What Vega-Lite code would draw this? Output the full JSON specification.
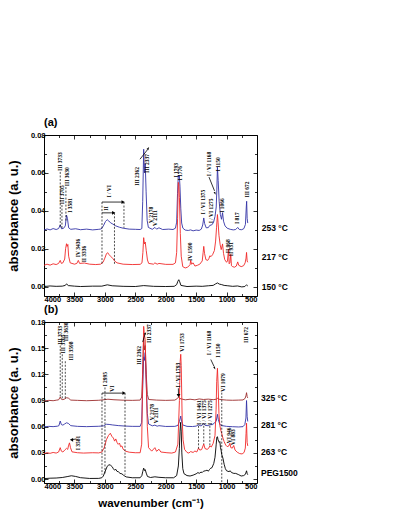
{
  "$schema": "https://vega.github.io/schema/vega-lite/v6.json",
  "padding": {"left": 7, "top": 117, "right": 5, "bottom": 5},
  "spacing": 1,
  "config": {
    "view": {"stroke": null},
    "axis": {"labelFont": "Liberation Sans", "labelFontWeight": "bold", "labelFontSize": 7.5, "labelColor": "black", "titleFont": "Liberation Sans", "titleFontWeight": "bold", "titleColor": "black", "domainColor": "black", "domainWidth": 1, "tickColor": "black", "tickWidth": 0.8, "grid": false}
  },
  "datasets": {
    "specA": [
      {"wn":4000,"a":0.0298,"s":"253"},{"wn":3950,"a":0.0304,"s":"253"},{"wn":3900,"a":0.0299,"s":"253"},{"wn":3850,"a":0.0306,"s":"253"},{"wn":3800,"a":0.0301,"s":"253"},{"wn":3760,"a":0.0306,"s":"253"},{"wn":3733,"a":0.0325,"s":"253"},{"wn":3712,"a":0.0305,"s":"253"},{"wn":3680,"a":0.0307,"s":"253"},{"wn":3650,"a":0.032,"s":"253"},{"wn":3630,"a":0.0377,"s":"253"},{"wn":3615,"a":0.036,"s":"253"},{"wn":3595,"a":0.031,"s":"253"},{"wn":3560,"a":0.0302,"s":"253"},{"wn":3480,"a":0.0305,"s":"253"},{"wn":3400,"a":0.03,"s":"253"},{"wn":3300,"a":0.0303,"s":"253"},{"wn":3200,"a":0.0299,"s":"253"},{"wn":3100,"a":0.0302,"s":"253"},{"wn":3060,"a":0.0304,"s":"253"},{"wn":3025,"a":0.032,"s":"253"},{"wn":2990,"a":0.0343,"s":"253"},{"wn":2962,"a":0.0353,"s":"253"},{"wn":2935,"a":0.0346,"s":"253"},{"wn":2905,"a":0.0336,"s":"253"},{"wn":2870,"a":0.033,"s":"253"},{"wn":2820,"a":0.032,"s":"253"},{"wn":2760,"a":0.0313,"s":"253"},{"wn":2700,"a":0.0308,"s":"253"},{"wn":2600,"a":0.0303,"s":"253"},{"wn":2500,"a":0.0302,"s":"253"},{"wn":2420,"a":0.0301,"s":"253"},{"wn":2392,"a":0.0306,"s":"253"},{"wn":2378,"a":0.045,"s":"253"},{"wn":2362,"a":0.0725,"s":"253"},{"wn":2350,"a":0.06,"s":"253"},{"wn":2337,"a":0.065,"s":"253"},{"wn":2322,"a":0.05,"s":"253"},{"wn":2305,"a":0.035,"s":"253"},{"wn":2285,"a":0.0312,"s":"253"},{"wn":2220,"a":0.0302,"s":"253"},{"wn":2178,"a":0.0312,"s":"253"},{"wn":2150,"a":0.0303,"s":"253"},{"wn":2111,"a":0.031,"s":"253"},{"wn":2050,"a":0.0301,"s":"253"},{"wn":1950,"a":0.0303,"s":"253"},{"wn":1880,"a":0.0301,"s":"253"},{"wn":1840,"a":0.0308,"s":"253"},{"wn":1820,"a":0.034,"s":"253"},{"wn":1806,"a":0.049,"s":"253"},{"wn":1793,"a":0.0588,"s":"253"},{"wn":1784,"a":0.0578,"s":"253"},{"wn":1776,"a":0.0585,"s":"253"},{"wn":1766,"a":0.053,"s":"253"},{"wn":1752,"a":0.041,"s":"253"},{"wn":1738,"a":0.0335,"s":"253"},{"wn":1718,"a":0.0308,"s":"253"},{"wn":1680,"a":0.0298,"s":"253"},{"wn":1630,"a":0.0296,"s":"253"},{"wn":1590,"a":0.0299,"s":"253"},{"wn":1550,"a":0.0294,"s":"253"},{"wn":1500,"a":0.0298,"s":"253"},{"wn":1450,"a":0.0296,"s":"253"},{"wn":1415,"a":0.0303,"s":"253"},{"wn":1392,"a":0.0325,"s":"253"},{"wn":1375,"a":0.0362,"s":"253"},{"wn":1360,"a":0.0332,"s":"253"},{"wn":1335,"a":0.031,"s":"253"},{"wn":1300,"a":0.0311,"s":"253"},{"wn":1275,"a":0.0323,"s":"253"},{"wn":1245,"a":0.0325,"s":"253"},{"wn":1215,"a":0.0338,"s":"253"},{"wn":1190,"a":0.037,"s":"253"},{"wn":1170,"a":0.042,"s":"253"},{"wn":1160,"a":0.051,"s":"253"},{"wn":1150,"a":0.063,"s":"253"},{"wn":1138,"a":0.056,"s":"253"},{"wn":1122,"a":0.045,"s":"253"},{"wn":1102,"a":0.038,"s":"253"},{"wn":1083,"a":0.0355,"s":"253"},{"wn":1066,"a":0.039,"s":"253"},{"wn":1050,"a":0.0345,"s":"253"},{"wn":1025,"a":0.032,"s":"253"},{"wn":990,"a":0.0308,"s":"253"},{"wn":940,"a":0.0302,"s":"253"},{"wn":890,"a":0.0299,"s":"253"},{"wn":850,"a":0.0301,"s":"253"},{"wn":817,"a":0.0312,"s":"253"},{"wn":790,"a":0.0301,"s":"253"},{"wn":750,"a":0.03,"s":"253"},{"wn":715,"a":0.0306,"s":"253"},{"wn":690,"a":0.0328,"s":"253"},{"wn":676,"a":0.042,"s":"253"},{"wn":670,"a":0.045,"s":"253"},{"wn":662,"a":0.036,"s":"253"},{"wn":652,"a":0.0335,"s":"253"},

      {"wn":4000,"a":0.0112,"s":"217"},{"wn":3950,"a":0.0118,"s":"217"},{"wn":3900,"a":0.0113,"s":"217"},{"wn":3850,"a":0.012,"s":"217"},{"wn":3800,"a":0.0116,"s":"217"},{"wn":3760,"a":0.0122,"s":"217"},{"wn":3733,"a":0.0138,"s":"217"},{"wn":3715,"a":0.0122,"s":"217"},{"wn":3690,"a":0.0125,"s":"217"},{"wn":3660,"a":0.0145,"s":"217"},{"wn":3645,"a":0.02,"s":"217"},{"wn":3630,"a":0.0226,"s":"217"},{"wn":3620,"a":0.0212,"s":"217"},{"wn":3608,"a":0.0222,"s":"217"},{"wn":3595,"a":0.016,"s":"217"},{"wn":3570,"a":0.0125,"s":"217"},{"wn":3500,"a":0.0118,"s":"217"},{"wn":3460,"a":0.0122,"s":"217"},{"wn":3436,"a":0.0138,"s":"217"},{"wn":3415,"a":0.0122,"s":"217"},{"wn":3336,"a":0.0124,"s":"217"},{"wn":3250,"a":0.0118,"s":"217"},{"wn":3150,"a":0.0116,"s":"217"},{"wn":3070,"a":0.0118,"s":"217"},{"wn":3030,"a":0.0128,"s":"217"},{"wn":3000,"a":0.015,"s":"217"},{"wn":2975,"a":0.0172,"s":"217"},{"wn":2955,"a":0.0179,"s":"217"},{"wn":2930,"a":0.0168,"s":"217"},{"wn":2900,"a":0.0158,"s":"217"},{"wn":2870,"a":0.0148,"s":"217"},{"wn":2840,"a":0.0135,"s":"217"},{"wn":2800,"a":0.0125,"s":"217"},{"wn":2700,"a":0.0118,"s":"217"},{"wn":2550,"a":0.0116,"s":"217"},{"wn":2420,"a":0.0117,"s":"217"},{"wn":2390,"a":0.0125,"s":"217"},{"wn":2375,"a":0.018,"s":"217"},{"wn":2362,"a":0.0258,"s":"217"},{"wn":2350,"a":0.0225,"s":"217"},{"wn":2337,"a":0.0235,"s":"217"},{"wn":2320,"a":0.019,"s":"217"},{"wn":2300,"a":0.014,"s":"217"},{"wn":2280,"a":0.0122,"s":"217"},{"wn":2200,"a":0.0118,"s":"217"},{"wn":2178,"a":0.0125,"s":"217"},{"wn":2140,"a":0.0118,"s":"217"},{"wn":2111,"a":0.0122,"s":"217"},{"wn":2000,"a":0.0117,"s":"217"},{"wn":1880,"a":0.0117,"s":"217"},{"wn":1840,"a":0.0125,"s":"217"},{"wn":1820,"a":0.018,"s":"217"},{"wn":1805,"a":0.036,"s":"217"},{"wn":1793,"a":0.055,"s":"217"},{"wn":1785,"a":0.054,"s":"217"},{"wn":1775,"a":0.047,"s":"217"},{"wn":1760,"a":0.028,"s":"217"},{"wn":1745,"a":0.016,"s":"217"},{"wn":1720,"a":0.0105,"s":"217"},{"wn":1680,"a":0.0098,"s":"217"},{"wn":1640,"a":0.0102,"s":"217"},{"wn":1600,"a":0.0115,"s":"217"},{"wn":1590,"a":0.0138,"s":"217"},{"wn":1575,"a":0.0118,"s":"217"},{"wn":1550,"a":0.0125,"s":"217"},{"wn":1520,"a":0.0108,"s":"217"},{"wn":1480,"a":0.0112,"s":"217"},{"wn":1440,"a":0.0118,"s":"217"},{"wn":1400,"a":0.0135,"s":"217"},{"wn":1385,"a":0.018,"s":"217"},{"wn":1375,"a":0.0212,"s":"217"},{"wn":1362,"a":0.0175,"s":"217"},{"wn":1340,"a":0.0142,"s":"217"},{"wn":1310,"a":0.0138,"s":"217"},{"wn":1290,"a":0.0148,"s":"217"},{"wn":1275,"a":0.0162,"s":"217"},{"wn":1255,"a":0.0158,"s":"217"},{"wn":1230,"a":0.0168,"s":"217"},{"wn":1200,"a":0.019,"s":"217"},{"wn":1180,"a":0.024,"s":"217"},{"wn":1165,"a":0.031,"s":"217"},{"wn":1150,"a":0.038,"s":"217"},{"wn":1140,"a":0.034,"s":"217"},{"wn":1125,"a":0.027,"s":"217"},{"wn":1105,"a":0.022,"s":"217"},{"wn":1088,"a":0.0195,"s":"217"},{"wn":1066,"a":0.0225,"s":"217"},{"wn":1050,"a":0.0175,"s":"217"},{"wn":1030,"a":0.0142,"s":"217"},{"wn":1000,"a":0.0128,"s":"217"},{"wn":985,"a":0.0135,"s":"217"},{"wn":968,"a":0.0197,"s":"217"},{"wn":958,"a":0.012,"s":"217"},{"wn":945,"a":0.0125,"s":"217"},{"wn":931,"a":0.017,"s":"217"},{"wn":920,"a":0.011,"s":"217"},{"wn":900,"a":0.0105,"s":"217"},{"wn":870,"a":0.0102,"s":"217"},{"wn":840,"a":0.0108,"s":"217"},{"wn":817,"a":0.013,"s":"217"},{"wn":800,"a":0.0112,"s":"217"},{"wn":760,"a":0.0105,"s":"217"},{"wn":720,"a":0.011,"s":"217"},{"wn":695,"a":0.0125,"s":"217"},{"wn":680,"a":0.015,"s":"217"},{"wn":672,"a":0.018,"s":"217"},{"wn":662,"a":0.0135,"s":"217"},{"wn":652,"a":0.0128,"s":"217"},

      {"wn":4000,"a":0.0,"s":"150"},{"wn":3900,"a":0.0003,"s":"150"},{"wn":3800,"a":0.0001,"s":"150"},{"wn":3700,"a":0.0002,"s":"150"},{"wn":3650,"a":0.0006,"s":"150"},{"wn":3630,"a":0.0014,"s":"150"},{"wn":3600,"a":0.0005,"s":"150"},{"wn":3500,"a":0.0002,"s":"150"},{"wn":3400,"a":0.0,"s":"150"},{"wn":3200,"a":0.0002,"s":"150"},{"wn":3050,"a":0.0002,"s":"150"},{"wn":2960,"a":0.0009,"s":"150"},{"wn":2880,"a":0.0004,"s":"150"},{"wn":2700,"a":0.0001,"s":"150"},{"wn":2500,"a":0.0,"s":"150"},{"wn":2362,"a":0.0005,"s":"150"},{"wn":2200,"a":0.0001,"s":"150"},{"wn":2000,"a":0.0,"s":"150"},{"wn":1860,"a":0.0001,"s":"150"},{"wn":1820,"a":0.001,"s":"150"},{"wn":1800,"a":0.0028,"s":"150"},{"wn":1785,"a":0.0036,"s":"150"},{"wn":1770,"a":0.0025,"s":"150"},{"wn":1750,"a":0.0006,"s":"150"},{"wn":1650,"a":0.0,"s":"150"},{"wn":1500,"a":0.0002,"s":"150"},{"wn":1400,"a":0.0001,"s":"150"},{"wn":1300,"a":0.0004,"s":"150"},{"wn":1220,"a":0.0006,"s":"150"},{"wn":1180,"a":0.0014,"s":"150"},{"wn":1150,"a":0.0019,"s":"150"},{"wn":1120,"a":0.0013,"s":"150"},{"wn":1080,"a":0.001,"s":"150"},{"wn":1040,"a":0.0006,"s":"150"},{"wn":980,"a":0.0004,"s":"150"},{"wn":900,"a":0.0001,"s":"150"},{"wn":820,"a":0.0003,"s":"150"},{"wn":750,"a":-0.0002,"s":"150"},{"wn":700,"a":0.0,"s":"150"},{"wn":672,"a":0.0009,"s":"150"},{"wn":652,"a":0.0003,"s":"150"}
    ],
    "labA": [
      {"wn":3733,"a":0.061,"t":"III 3733"},{"wn":3705,"a":0.0435,"t":"III 3705"},{"wn":3630,"a":0.053,"t":"III 3630"},{"wn":3570,"a":0.039,"t":"I 3581"},{"wn":3446,"a":0.0155,"t":"IV 3436"},{"wn":3345,"a":0.0128,"t":"II 3336"},{"wn":2935,"a":0.047,"t":"I / VI"},{"wn":2975,"a":0.04,"t":"II"},{"wn":2470,"a":0.0532,"t":"III 2362"},{"wn":2300,"a":0.06,"t":"III 2337"},{"wn":2240,"a":0.0336,"t":"V 2178"},{"wn":2170,"a":0.032,"t":"V 2111"},{"wn":1831,"a":0.0575,"t":"I 1793"},{"wn":1766,"a":0.056,"t":"I 1776"},{"wn":1601,"a":0.0135,"t":"IV 1590"},{"wn":1393,"a":0.038,"t":"I / VI 1375"},{"wn":1256,"a":0.0334,"t":"I / VI 1275"},{"wn":1289,"a":0.0582,"t":"I / VI 1168"},{"wn":1146,"a":0.0607,"t":"I 1150"},{"wn":1070,"a":0.039,"t":"I 1066"},{"wn":971,"a":0.0176,"t":"II 968"},{"wn":927,"a":0.016,"t":"II 931"},{"wn":824,"a":0.033,"t":"I 817"},{"wn":669,"a":0.047,"t":"III 672"}
    ],
    "dashA": [
      {"wn":3733,"a":0.0605,"a2":0.031},{"wn":3705,"a":0.043,"a2":0.0305},{"wn":3640,"a":0.0525,"a2":0.034},{"wn":3047,"a":0.0446,"a2":0.012},{"wn":2686,"a":0.0446,"a2":0.031},{"wn":2842,"a":0.0389,"a2":0.012}
    ],
    "arrA": [
      {"wn":3047,"a":0.0446,"wn2":2700,"a2":0.0446},{"wn":3047,"a":0.0389,"wn2":2855,"a2":0.0389},{"wn":2423,"a":0.0672,"wn2":2300,"a2":0.0722},{"wn":1289,"a":0.0578,"wn2":1198,"a2":0.0505}
    ],
    "headA": [
      {"wn":2700,"a":0.0446,"dir":"right"},{"wn":2855,"a":0.0389,"dir":"right"},{"wn":2290,"a":0.0728,"dir":"upright"},{"wn":1192,"a":0.0493,"dir":"downright"}
    ],
    "tempA": [
      {"wn":423,"a":0.031,"t":"253 °C"},{"wn":423,"a":0.0155,"t":"217 °C"},{"wn":423,"a":0.0,"t":"150 °C"}
    ],
    "specB": [
      {"wn":4000,"a":0.0895,"s":"325"},{"wn":3920,"a":0.0902,"s":"325"},{"wn":3850,"a":0.0898,"s":"325"},{"wn":3790,"a":0.0905,"s":"325"},{"wn":3760,"a":0.0908,"s":"325"},{"wn":3733,"a":0.094,"s":"325"},{"wn":3715,"a":0.0915,"s":"325"},{"wn":3690,"a":0.091,"s":"325"},{"wn":3660,"a":0.0918,"s":"325"},{"wn":3630,"a":0.0932,"s":"325"},{"wn":3600,"a":0.0928,"s":"325"},{"wn":3560,"a":0.0905,"s":"325"},{"wn":3450,"a":0.0902,"s":"325"},{"wn":3300,"a":0.0898,"s":"325"},{"wn":3100,"a":0.0903,"s":"325"},{"wn":3000,"a":0.091,"s":"325"},{"wn":2950,"a":0.0915,"s":"325"},{"wn":2850,"a":0.0909,"s":"325"},{"wn":2700,"a":0.0904,"s":"325"},{"wn":2550,"a":0.0902,"s":"325"},{"wn":2420,"a":0.0905,"s":"325"},{"wn":2395,"a":0.094,"s":"325"},{"wn":2380,"a":0.12,"s":"325"},{"wn":2362,"a":0.162,"s":"325"},{"wn":2350,"a":0.148,"s":"325"},{"wn":2337,"a":0.153,"s":"325"},{"wn":2320,"a":0.12,"s":"325"},{"wn":2302,"a":0.097,"s":"325"},{"wn":2280,"a":0.0912,"s":"325"},{"wn":2150,"a":0.0905,"s":"325"},{"wn":2000,"a":0.0902,"s":"325"},{"wn":1850,"a":0.0905,"s":"325"},{"wn":1810,"a":0.0922,"s":"325"},{"wn":1793,"a":0.0938,"s":"325"},{"wn":1775,"a":0.0925,"s":"325"},{"wn":1740,"a":0.0918,"s":"325"},{"wn":1680,"a":0.0908,"s":"325"},{"wn":1600,"a":0.0915,"s":"325"},{"wn":1520,"a":0.0908,"s":"325"},{"wn":1450,"a":0.0918,"s":"325"},{"wn":1380,"a":0.0912,"s":"325"},{"wn":1300,"a":0.0916,"s":"325"},{"wn":1220,"a":0.091,"s":"325"},{"wn":1170,"a":0.0915,"s":"325"},{"wn":1150,"a":0.0925,"s":"325"},{"wn":1110,"a":0.0912,"s":"325"},{"wn":1000,"a":0.0905,"s":"325"},{"wn":900,"a":0.0903,"s":"325"},{"wn":800,"a":0.0905,"s":"325"},{"wn":730,"a":0.0907,"s":"325"},{"wn":695,"a":0.0925,"s":"325"},{"wn":680,"a":0.096,"s":"325"},{"wn":672,"a":0.099,"s":"325"},{"wn":662,"a":0.0945,"s":"325"},{"wn":652,"a":0.093,"s":"325"},

      {"wn":4000,"a":0.0598,"s":"281"},{"wn":3920,"a":0.0604,"s":"281"},{"wn":3850,"a":0.0601,"s":"281"},{"wn":3780,"a":0.0606,"s":"281"},{"wn":3755,"a":0.0612,"s":"281"},{"wn":3733,"a":0.0665,"s":"281"},{"wn":3715,"a":0.0625,"s":"281"},{"wn":3690,"a":0.0618,"s":"281"},{"wn":3660,"a":0.0632,"s":"281"},{"wn":3630,"a":0.0645,"s":"281"},{"wn":3600,"a":0.0638,"s":"281"},{"wn":3560,"a":0.0612,"s":"281"},{"wn":3450,"a":0.0604,"s":"281"},{"wn":3300,"a":0.0601,"s":"281"},{"wn":3100,"a":0.0605,"s":"281"},{"wn":3020,"a":0.061,"s":"281"},{"wn":2975,"a":0.0628,"s":"281"},{"wn":2930,"a":0.0626,"s":"281"},{"wn":2870,"a":0.062,"s":"281"},{"wn":2780,"a":0.0613,"s":"281"},{"wn":2680,"a":0.0608,"s":"281"},{"wn":2550,"a":0.0604,"s":"281"},{"wn":2420,"a":0.0604,"s":"281"},{"wn":2395,"a":0.065,"s":"281"},{"wn":2380,"a":0.1,"s":"281"},{"wn":2362,"a":0.14,"s":"281"},{"wn":2350,"a":0.136,"s":"281"},{"wn":2337,"a":0.145,"s":"281"},{"wn":2320,"a":0.11,"s":"281"},{"wn":2302,"a":0.075,"s":"281"},{"wn":2282,"a":0.0632,"s":"281"},{"wn":2220,"a":0.061,"s":"281"},{"wn":2178,"a":0.0618,"s":"281"},{"wn":2140,"a":0.0606,"s":"281"},{"wn":2111,"a":0.0612,"s":"281"},{"wn":2000,"a":0.0603,"s":"281"},{"wn":1850,"a":0.0604,"s":"281"},{"wn":1800,"a":0.0615,"s":"281"},{"wn":1775,"a":0.066,"s":"281"},{"wn":1753,"a":0.0722,"s":"281"},{"wn":1740,"a":0.0665,"s":"281"},{"wn":1720,"a":0.062,"s":"281"},{"wn":1650,"a":0.0604,"s":"281"},{"wn":1560,"a":0.0602,"s":"281"},{"wn":1500,"a":0.0607,"s":"281"},{"wn":1461,"a":0.0622,"s":"281"},{"wn":1420,"a":0.0608,"s":"281"},{"wn":1375,"a":0.0635,"s":"281"},{"wn":1350,"a":0.0614,"s":"281"},{"wn":1300,"a":0.0612,"s":"281"},{"wn":1275,"a":0.0622,"s":"281"},{"wn":1230,"a":0.0625,"s":"281"},{"wn":1195,"a":0.0645,"s":"281"},{"wn":1170,"a":0.0665,"s":"281"},{"wn":1150,"a":0.0742,"s":"281"},{"wn":1135,"a":0.068,"s":"281"},{"wn":1110,"a":0.0625,"s":"281"},{"wn":1079,"a":0.0613,"s":"281"},{"wn":1000,"a":0.0604,"s":"281"},{"wn":900,"a":0.06,"s":"281"},{"wn":800,"a":0.0597,"s":"281"},{"wn":730,"a":0.0601,"s":"281"},{"wn":700,"a":0.0625,"s":"281"},{"wn":682,"a":0.07,"s":"281"},{"wn":672,"a":0.09,"s":"281"},{"wn":662,"a":0.072,"s":"281"},{"wn":652,"a":0.066,"s":"281"},

      {"wn":4000,"a":0.0292,"s":"263"},{"wn":3950,"a":0.0302,"s":"263"},{"wn":3900,"a":0.0295,"s":"263"},{"wn":3850,"a":0.0305,"s":"263"},{"wn":3800,"a":0.0298,"s":"263"},{"wn":3760,"a":0.031,"s":"263"},{"wn":3733,"a":0.036,"s":"263"},{"wn":3715,"a":0.032,"s":"263"},{"wn":3690,"a":0.031,"s":"263"},{"wn":3660,"a":0.0332,"s":"263"},{"wn":3630,"a":0.0352,"s":"263"},{"wn":3610,"a":0.034,"s":"263"},{"wn":3598,"a":0.038,"s":"263"},{"wn":3581,"a":0.0415,"s":"263"},{"wn":3565,"a":0.036,"s":"263"},{"wn":3540,"a":0.0312,"s":"263"},{"wn":3450,"a":0.0302,"s":"263"},{"wn":3350,"a":0.0298,"s":"263"},{"wn":3200,"a":0.0302,"s":"263"},{"wn":3100,"a":0.03,"s":"263"},{"wn":3050,"a":0.031,"s":"263"},{"wn":3010,"a":0.036,"s":"263"},{"wn":2975,"a":0.045,"s":"263"},{"wn":2940,"a":0.05,"s":"263"},{"wn":2910,"a":0.0525,"s":"263"},{"wn":2885,"a":0.049,"s":"263"},{"wn":2860,"a":0.047,"s":"263"},{"wn":2840,"a":0.0435,"s":"263"},{"wn":2820,"a":0.046,"s":"263"},{"wn":2800,"a":0.042,"s":"263"},{"wn":2780,"a":0.0398,"s":"263"},{"wn":2760,"a":0.0412,"s":"263"},{"wn":2740,"a":0.037,"s":"263"},{"wn":2720,"a":0.038,"s":"263"},{"wn":2700,"a":0.0342,"s":"263"},{"wn":2660,"a":0.032,"s":"263"},{"wn":2600,"a":0.0308,"s":"263"},{"wn":2500,"a":0.0302,"s":"263"},{"wn":2420,"a":0.0302,"s":"263"},{"wn":2395,"a":0.04,"s":"263"},{"wn":2380,"a":0.11,"s":"263"},{"wn":2362,"a":0.175,"s":"263"},{"wn":2350,"a":0.165,"s":"263"},{"wn":2337,"a":0.16,"s":"263"},{"wn":2320,"a":0.11,"s":"263"},{"wn":2302,"a":0.06,"s":"263"},{"wn":2282,"a":0.036,"s":"263"},{"wn":2230,"a":0.032,"s":"263"},{"wn":2178,"a":0.036,"s":"263"},{"wn":2150,"a":0.0318,"s":"263"},{"wn":2111,"a":0.0342,"s":"263"},{"wn":2080,"a":0.031,"s":"263"},{"wn":1980,"a":0.0302,"s":"263"},{"wn":1900,"a":0.0298,"s":"263"},{"wn":1840,"a":0.031,"s":"263"},{"wn":1800,"a":0.04,"s":"263"},{"wn":1775,"a":0.09,"s":"263"},{"wn":1762,"a":0.135,"s":"263"},{"wn":1753,"a":0.143,"s":"263"},{"wn":1745,"a":0.13,"s":"263"},{"wn":1730,"a":0.07,"s":"263"},{"wn":1715,"a":0.045,"s":"263"},{"wn":1690,"a":0.034,"s":"263"},{"wn":1650,"a":0.0305,"s":"263"},{"wn":1620,"a":0.0298,"s":"263"},{"wn":1590,"a":0.0315,"s":"263"},{"wn":1550,"a":0.0305,"s":"263"},{"wn":1520,"a":0.0322,"s":"263"},{"wn":1490,"a":0.031,"s":"263"},{"wn":1461,"a":0.0355,"s":"263"},{"wn":1440,"a":0.0332,"s":"263"},{"wn":1410,"a":0.0338,"s":"263"},{"wn":1375,"a":0.0402,"s":"263"},{"wn":1355,"a":0.035,"s":"263"},{"wn":1320,"a":0.034,"s":"263"},{"wn":1295,"a":0.0352,"s":"263"},{"wn":1275,"a":0.038,"s":"263"},{"wn":1250,"a":0.0368,"s":"263"},{"wn":1220,"a":0.041,"s":"263"},{"wn":1190,"a":0.05,"s":"263"},{"wn":1172,"a":0.08,"s":"263"},{"wn":1162,"a":0.112,"s":"263"},{"wn":1150,"a":0.127,"s":"263"},{"wn":1140,"a":0.11,"s":"263"},{"wn":1125,"a":0.075,"s":"263"},{"wn":1110,"a":0.061,"s":"263"},{"wn":1095,"a":0.056,"s":"263"},{"wn":1079,"a":0.052,"s":"263"},{"wn":1060,"a":0.047,"s":"263"},{"wn":1040,"a":0.043,"s":"263"},{"wn":1015,"a":0.039,"s":"263"},{"wn":990,"a":0.0372,"s":"263"},{"wn":965,"a":0.0378,"s":"263"},{"wn":946,"a":0.041,"s":"263"},{"wn":930,"a":0.036,"s":"263"},{"wn":905,"a":0.0355,"s":"263"},{"wn":883,"a":0.0385,"s":"263"},{"wn":860,"a":0.0332,"s":"263"},{"wn":825,"a":0.0308,"s":"263"},{"wn":785,"a":0.0292,"s":"263"},{"wn":745,"a":0.0288,"s":"263"},{"wn":712,"a":0.0305,"s":"263"},{"wn":692,"a":0.0355,"s":"263"},{"wn":680,"a":0.052,"s":"263"},{"wn":672,"a":0.064,"s":"263"},{"wn":662,"a":0.042,"s":"263"},{"wn":652,"a":0.038,"s":"263"},

      {"wn":4000,"a":0.0005,"s":"PEG"},{"wn":3900,"a":0.001,"s":"PEG"},{"wn":3800,"a":0.0012,"s":"PEG"},{"wn":3700,"a":0.0018,"s":"PEG"},{"wn":3620,"a":0.0028,"s":"PEG"},{"wn":3550,"a":0.0038,"s":"PEG"},{"wn":3480,"a":0.003,"s":"PEG"},{"wn":3400,"a":0.0016,"s":"PEG"},{"wn":3250,"a":0.0007,"s":"PEG"},{"wn":3100,"a":0.0008,"s":"PEG"},{"wn":3050,"a":0.0015,"s":"PEG"},{"wn":3025,"a":0.0035,"s":"PEG"},{"wn":3000,"a":0.008,"s":"PEG"},{"wn":2965,"a":0.014,"s":"PEG"},{"wn":2935,"a":0.0165,"s":"PEG"},{"wn":2905,"a":0.0158,"s":"PEG"},{"wn":2880,"a":0.0142,"s":"PEG"},{"wn":2860,"a":0.0118,"s":"PEG"},{"wn":2840,"a":0.0102,"s":"PEG"},{"wn":2820,"a":0.0112,"s":"PEG"},{"wn":2800,"a":0.0088,"s":"PEG"},{"wn":2780,"a":0.0085,"s":"PEG"},{"wn":2750,"a":0.0065,"s":"PEG"},{"wn":2720,"a":0.006,"s":"PEG"},{"wn":2690,"a":0.0042,"s":"PEG"},{"wn":2650,"a":0.0025,"s":"PEG"},{"wn":2550,"a":0.0015,"s":"PEG"},{"wn":2420,"a":0.0015,"s":"PEG"},{"wn":2392,"a":0.004,"s":"PEG"},{"wn":2376,"a":0.009,"s":"PEG"},{"wn":2362,"a":0.0125,"s":"PEG"},{"wn":2348,"a":0.0098,"s":"PEG"},{"wn":2337,"a":0.0108,"s":"PEG"},{"wn":2320,"a":0.0068,"s":"PEG"},{"wn":2300,"a":0.003,"s":"PEG"},{"wn":2250,"a":0.0018,"s":"PEG"},{"wn":2178,"a":0.0026,"s":"PEG"},{"wn":2111,"a":0.002,"s":"PEG"},{"wn":2000,"a":0.0015,"s":"PEG"},{"wn":1870,"a":0.0015,"s":"PEG"},{"wn":1820,"a":0.004,"s":"PEG"},{"wn":1792,"a":0.015,"s":"PEG"},{"wn":1776,"a":0.035,"s":"PEG"},{"wn":1765,"a":0.055,"s":"PEG"},{"wn":1755,"a":0.065,"s":"PEG"},{"wn":1745,"a":0.055,"s":"PEG"},{"wn":1735,"a":0.03,"s":"PEG"},{"wn":1720,"a":0.012,"s":"PEG"},{"wn":1700,"a":0.0062,"s":"PEG"},{"wn":1650,"a":0.004,"s":"PEG"},{"wn":1600,"a":0.0035,"s":"PEG"},{"wn":1550,"a":0.0045,"s":"PEG"},{"wn":1500,"a":0.006,"s":"PEG"},{"wn":1470,"a":0.0075,"s":"PEG"},{"wn":1450,"a":0.0065,"s":"PEG"},{"wn":1420,"a":0.008,"s":"PEG"},{"wn":1400,"a":0.0075,"s":"PEG"},{"wn":1380,"a":0.009,"s":"PEG"},{"wn":1350,"a":0.0095,"s":"PEG"},{"wn":1320,"a":0.0102,"s":"PEG"},{"wn":1300,"a":0.009,"s":"PEG"},{"wn":1280,"a":0.011,"s":"PEG"},{"wn":1260,"a":0.0125,"s":"PEG"},{"wn":1240,"a":0.013,"s":"PEG"},{"wn":1210,"a":0.018,"s":"PEG"},{"wn":1190,"a":0.025,"s":"PEG"},{"wn":1170,"a":0.04,"s":"PEG"},{"wn":1160,"a":0.048,"s":"PEG"},{"wn":1150,"a":0.0485,"s":"PEG"},{"wn":1140,"a":0.045,"s":"PEG"},{"wn":1120,"a":0.042,"s":"PEG"},{"wn":1110,"a":0.043,"s":"PEG"},{"wn":1100,"a":0.036,"s":"PEG"},{"wn":1090,"a":0.033,"s":"PEG"},{"wn":1079,"a":0.028,"s":"PEG"},{"wn":1060,"a":0.024,"s":"PEG"},{"wn":1040,"a":0.017,"s":"PEG"},{"wn":1020,"a":0.012,"s":"PEG"},{"wn":1000,"a":0.0095,"s":"PEG"},{"wn":960,"a":0.0085,"s":"PEG"},{"wn":940,"a":0.0095,"s":"PEG"},{"wn":920,"a":0.0075,"s":"PEG"},{"wn":880,"a":0.0065,"s":"PEG"},{"wn":850,"a":0.0065,"s":"PEG"},{"wn":800,"a":0.005,"s":"PEG"},{"wn":760,"a":0.0035,"s":"PEG"},{"wn":720,"a":0.004,"s":"PEG"},{"wn":690,"a":0.0055,"s":"PEG"},{"wn":672,"a":0.0095,"s":"PEG"},{"wn":662,"a":0.0065,"s":"PEG"},{"wn":652,"a":0.005,"s":"PEG"}
    ],
    "labB": [
      {"wn":3733,"a":0.154,"t":"III 3733"},{"wn":3690,"a":0.144,"t":"III 3705"},{"wn":3640,"a":0.158,"t":"III 3630"},{"wn":3556,"a":0.136,"t":"III 3598"},{"wn":3441,"a":0.033,"t":"I 3581"},{"wn":2998,"a":0.106,"t":"I 2995"},{"wn":2888,"a":0.1,"t":"VI"},{"wn":2434,"a":0.131,"t":"III 2362"},{"wn":2275,"a":0.156,"t":"III 2337"},{"wn":2230,"a":0.0675,"t":"V 2178"},{"wn":2160,"a":0.064,"t":"V 2111"},{"wn":1794,"a":0.105,"t":"I / VI 1793"},{"wn":1737,"a":0.146,"t":"VI 1753"},{"wn":1461,"a":0.062,"t":"I / VI 1461"},{"wn":1375,"a":0.062,"t":"I / VI 1375"},{"wn":1275,"a":0.062,"t":"I / VI 1275"},{"wn":1284,"a":0.142,"t":"I / VI 1168"},{"wn":1146,"a":0.139,"t":"I 1150"},{"wn":1054,"a":0.1,"t":"VI 1079"},{"wn":955,"a":0.041,"t":"VI 946"},{"wn":889,"a":0.039,"t":"VI 883"},{"wn":686,"a":0.156,"t":"III 672"}
    ],
    "dashB": [
      {"wn":3733,"a":0.153,"a2":0.0935},{"wn":3700,"a":0.143,"a2":0.091},{"wn":3650,"a":0.135,"a2":0.092},{"wn":3047,"a":0.0985,"a2":0.005},{"wn":2669,"a":0.0985,"a2":0.005},{"wn":2998,"a":0.105,"a2":0.005},{"wn":1461,"a":0.061,"a2":0.035},{"wn":1375,"a":0.061,"a2":0.04},{"wn":1275,"a":0.061,"a2":0.038},{"wn":1079,"a":0.099,"a2":-0.0045}
    ],
    "arrB": [
      {"wn":3047,"a":0.0985,"wn2":2685,"a2":0.0985},{"wn":2378,"a":0.157,"wn2":2345,"a2":0.165},{"wn":1792,"a":0.104,"wn2":1790,"a2":0.097},{"wn":1259,"a":0.137,"wn2":1205,"a2":0.129},{"wn":3470,"a":0.046,"wn2":3535,"a2":0.0452}
    ],
    "headB": [
      {"wn":2685,"a":0.0985,"dir":"right"},{"wn":2338,"a":0.1665,"dir":"upright"},{"wn":1790,"a":0.0955,"dir":"down"},{"wn":1198,"a":0.1275,"dir":"downright"},{"wn":3548,"a":0.045,"dir":"left"}
    ],
    "tempB": [
      {"wn":435,"a":0.0925,"t":"325 °C"},{"wn":435,"a":0.062,"t":"281 °C"},{"wn":435,"a":0.0313,"t":"263 °C"},{"wn":435,"a":0.0073,"t":"PEG1500"}
    ]
  },
  "vconcat": [
    {
      "width": 213, "height": 161,
      "title": {"text": "(a)", "anchor": "start", "frame": "group", "fontSize": 11, "fontWeight": "bold", "font": "Liberation Sans", "offset": 3, "color": "black"},
      "resolve": {"axis": {"x": "independent", "y": "independent"}},
      "layer": [
        {"data": {"name": "specA"}, "mark": {"type": "line", "strokeWidth": 0.9},
         "encoding": {
           "x": {"field": "wn", "type": "quantitative", "scale": {"domain": [500, 4000], "reverse": true, "nice": false, "zero": false},
                 "axis": {"orient": "bottom", "title": null, "values": [500,750,1000,1250,1500,1750,2000,2250,2500,2750,3000,3250,3500,3750,4000], "labelExpr": "datum.value % 500 == 0 ? datum.label : ''", "format": "d", "tickSize": {"condition": {"test": "datum.value % 500 == 0", "value": -4}, "value": -2.5}, "labelPadding": 3}},
           "y": {"field": "a", "type": "quantitative", "scale": {"domain": [-0.005, 0.08], "nice": false, "zero": false},
                 "axis": {"orient": "left", "title": "absorbance (a. u.)", "titleFontSize": 13, "titlePadding": 10, "values": [0,0.01,0.02,0.03,0.04,0.05,0.06,0.07,0.08], "labelExpr": "round(datum.value*100) % 2 == 0 ? format(datum.value, '.2f') : ''", "tickSize": {"condition": {"test": "round(datum.value*100) % 2 == 0", "value": -4}, "value": -2.5}, "labelPadding": 3}},
           "color": {"field": "s", "type": "nominal", "legend": null, "scale": {"domain": ["253","217","150","325","281","263","PEG"], "range": ["#3333a6","#f02828","#000000","#9c2c2c","#3333a6","#f02828","#000000"]}}
         }},
        {"data": {"name": "dashA"}, "mark": {"type": "rule", "strokeDash": [2, 1.5], "strokeWidth": 0.7, "color": "black"},
         "encoding": {
           "x": {"field": "wn", "type": "quantitative", "axis": null, "scale": {"domain": [500, 4000], "reverse": true, "nice": false, "zero": false}},
           "y": {"field": "a", "type": "quantitative", "axis": null, "scale": {"domain": [-0.005, 0.08], "nice": false, "zero": false}},
           "y2": {"field": "a2"}
         }},
        {"data": {"name": "arrA"}, "mark": {"type": "rule", "strokeWidth": 0.8, "color": "black"},
         "encoding": {
           "x": {"field": "wn", "type": "quantitative", "axis": null, "scale": {"domain": [500, 4000], "reverse": true, "nice": false, "zero": false}},
           "x2": {"field": "wn2"},
           "y": {"field": "a", "type": "quantitative", "axis": null, "scale": {"domain": [-0.005, 0.08], "nice": false, "zero": false}},
           "y2": {"field": "a2"}
         }},
        {"data": {"name": "headA"}, "mark": {"type": "point", "filled": true, "color": "black", "opacity": 1, "size": 14},
         "encoding": {
           "x": {"field": "wn", "type": "quantitative", "axis": null, "scale": {"domain": [500, 4000], "reverse": true, "nice": false, "zero": false}},
           "y": {"field": "a", "type": "quantitative", "axis": null, "scale": {"domain": [-0.005, 0.08], "nice": false, "zero": false}},
           "shape": {"field": "dir", "type": "nominal", "legend": null, "scale": {"domain": ["right","left","down","upright","downright"], "range": ["triangle-right","triangle-left","triangle-down","M0.57,-0.82L0.15,0.83L-0.83,0.15Z","M0.42,0.91L0.2,-0.76L-0.7,-0.34Z"]}}
         }},
        {"data": {"name": "labA"}, "mark": {"type": "text", "angle": 270, "align": "left", "baseline": "middle", "font": "Liberation Serif", "fontSize": 5.5, "fontWeight": "bold", "color": "black"},
         "encoding": {
           "x": {"field": "wn", "type": "quantitative", "axis": null, "scale": {"domain": [500, 4000], "reverse": true, "nice": false, "zero": false}},
           "y": {"field": "a", "type": "quantitative", "axis": null, "scale": {"domain": [-0.005, 0.08], "nice": false, "zero": false}},
           "text": {"field": "t"}
         }},
        {"data": {"name": "tempA"}, "mark": {"type": "text", "align": "left", "baseline": "middle", "font": "Liberation Sans", "fontSize": 8.5, "fontWeight": "bold", "color": "black"},
         "encoding": {
           "x": {"field": "wn", "type": "quantitative", "scale": {"domain": [500, 4000], "reverse": true, "nice": false, "zero": false},
                 "axis": {"orient": "top", "title": null, "labels": false, "values": [500,750,1000,1250,1500,1750,2000,2250,2500,2750,3000,3250,3500,3750,4000], "tickSize": {"condition": {"test": "datum.value % 500 == 0", "value": -4}, "value": -2.5}}},
           "y": {"field": "a", "type": "quantitative", "scale": {"domain": [-0.005, 0.08], "nice": false, "zero": false},
                 "axis": {"orient": "right", "title": null, "labels": false, "values": [0,0.01,0.02,0.03,0.04,0.05,0.06,0.07,0.08], "tickSize": {"condition": {"test": "round(datum.value*100) % 2 == 0", "value": -4}, "value": -2.5}}},
           "text": {"field": "t"}
         }}
      ]
    },
    {
      "width": 213, "height": 161,
      "title": {"text": "(b)", "anchor": "start", "frame": "group", "fontSize": 11, "fontWeight": "bold", "font": "Liberation Sans", "offset": 3, "color": "black"},
      "resolve": {"axis": {"x": "independent", "y": "independent"}},
      "layer": [
        {"data": {"name": "specB"}, "mark": {"type": "line", "strokeWidth": 0.9},
         "encoding": {
           "x": {"field": "wn", "type": "quantitative", "scale": {"domain": [500, 4000], "reverse": true, "nice": false, "zero": false},
                 "axis": {"orient": "bottom", "title": "wavenumber (cm⁻¹)", "titleFontSize": 11.5, "titlePadding": 8, "values": [500,750,1000,1250,1500,1750,2000,2250,2500,2750,3000,3250,3500,3750,4000], "labelExpr": "datum.value % 500 == 0 ? datum.label : ''", "format": "d", "tickSize": {"condition": {"test": "datum.value % 500 == 0", "value": -4}, "value": -2.5}, "labelPadding": 3}},
           "y": {"field": "a", "type": "quantitative", "scale": {"domain": [-0.0045, 0.18], "nice": false, "zero": false},
                 "axis": {"orient": "left", "title": "absorbance (a. u.)", "titleFontSize": 13, "titlePadding": 10, "values": [0,0.015,0.03,0.045,0.06,0.075,0.09,0.105,0.12,0.135,0.15,0.165,0.18], "labelExpr": "round(datum.value*1000) % 30 == 0 ? format(datum.value, '.2f') : ''", "tickSize": {"condition": {"test": "round(datum.value*1000) % 30 == 0", "value": -4}, "value": -2.5}, "labelPadding": 3}},
           "color": {"field": "s", "type": "nominal", "legend": null, "scale": {"domain": ["253","217","150","325","281","263","PEG"], "range": ["#3333a6","#f02828","#000000","#9c2c2c","#3333a6","#f02828","#000000"]}}
         }},
        {"data": {"name": "dashB"}, "mark": {"type": "rule", "strokeDash": [2, 1.5], "strokeWidth": 0.7, "color": "black"},
         "encoding": {
           "x": {"field": "wn", "type": "quantitative", "axis": null, "scale": {"domain": [500, 4000], "reverse": true, "nice": false, "zero": false}},
           "y": {"field": "a", "type": "quantitative", "axis": null, "scale": {"domain": [-0.0045, 0.18], "nice": false, "zero": false}},
           "y2": {"field": "a2"}
         }},
        {"data": {"name": "arrB"}, "mark": {"type": "rule", "strokeWidth": 0.8, "color": "black"},
         "encoding": {
           "x": {"field": "wn", "type": "quantitative", "axis": null, "scale": {"domain": [500, 4000], "reverse": true, "nice": false, "zero": false}},
           "x2": {"field": "wn2"},
           "y": {"field": "a", "type": "quantitative", "axis": null, "scale": {"domain": [-0.0045, 0.18], "nice": false, "zero": false}},
           "y2": {"field": "a2"}
         }},
        {"data": {"name": "headB"}, "mark": {"type": "point", "filled": true, "color": "black", "opacity": 1, "size": 14},
         "encoding": {
           "x": {"field": "wn", "type": "quantitative", "axis": null, "scale": {"domain": [500, 4000], "reverse": true, "nice": false, "zero": false}},
           "y": {"field": "a", "type": "quantitative", "axis": null, "scale": {"domain": [-0.0045, 0.18], "nice": false, "zero": false}},
           "shape": {"field": "dir", "type": "nominal", "legend": null, "scale": {"domain": ["right","left","down","upright","downright"], "range": ["triangle-right","triangle-left","triangle-down","M0.57,-0.82L0.15,0.83L-0.83,0.15Z","M0.42,0.91L0.2,-0.76L-0.7,-0.34Z"]}}
         }},
        {"data": {"name": "labB"}, "mark": {"type": "text", "angle": 270, "align": "left", "baseline": "middle", "font": "Liberation Serif", "fontSize": 5.5, "fontWeight": "bold", "color": "black"},
         "encoding": {
           "x": {"field": "wn", "type": "quantitative", "axis": null, "scale": {"domain": [500, 4000], "reverse": true, "nice": false, "zero": false}},
           "y": {"field": "a", "type": "quantitative", "axis": null, "scale": {"domain": [-0.0045, 0.18], "nice": false, "zero": false}},
           "text": {"field": "t"}
         }},
        {"data": {"name": "tempB"}, "mark": {"type": "text", "align": "left", "baseline": "middle", "font": "Liberation Sans", "fontSize": 8.5, "fontWeight": "bold", "color": "black"},
         "encoding": {
           "x": {"field": "wn", "type": "quantitative", "scale": {"domain": [500, 4000], "reverse": true, "nice": false, "zero": false},
                 "axis": {"orient": "top", "title": null, "labels": false, "values": [500,750,1000,1250,1500,1750,2000,2250,2500,2750,3000,3250,3500,3750,4000], "tickSize": {"condition": {"test": "datum.value % 500 == 0", "value": -4}, "value": -2.5}}},
           "y": {"field": "a", "type": "quantitative", "scale": {"domain": [-0.0045, 0.18], "nice": false, "zero": false},
                 "axis": {"orient": "right", "title": null, "labels": false, "values": [0,0.015,0.03,0.045,0.06,0.075,0.09,0.105,0.12,0.135,0.15,0.165,0.18], "tickSize": {"condition": {"test": "round(datum.value*1000) % 30 == 0", "value": -4}, "value": -2.5}}},
           "text": {"field": "t"}
         }}
      ]
    }
  ]
}
